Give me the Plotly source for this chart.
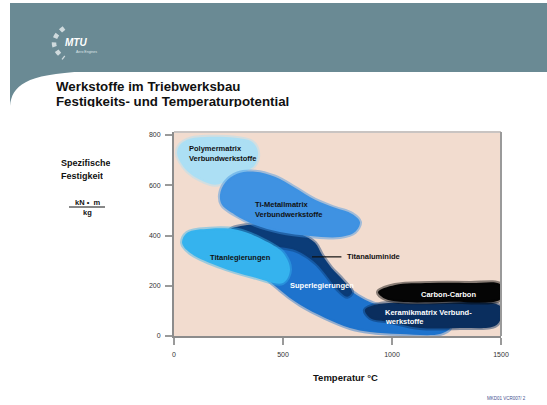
import plotly.graph_objects as go

# --- axis ticks -------------------------------------------------------------
temp_ticks = [0, 500, 1000, 1500]            # Temperatur in °C
strength_ticks = [0, 200, 400, 600, 800]     # spezifische Festigkeit in kN·m/kg

# --- material fields: outline points (temperature °C, specific strength) ----
polymer_T = [28, 73, 165, 280, 358, 385, 372, 326, 257, 188, 119, 64, 28, 14]
polymer_S = [762, 785, 793, 789, 773, 734, 682, 654, 622, 602, 622, 654, 694, 730]

ti_mmc_T = [211, 234, 289, 372, 463, 555, 647, 739, 817, 853, 830, 761, 624, 486, 372, 280, 220]
ti_mmc_S = [562, 610, 646, 654, 634, 590, 542, 510, 486, 454, 414, 394, 398, 414, 442, 482, 522]

superleg_T = [486, 601, 670, 739, 807, 876, 968, 1037, 1174, 1266, 1220, 1037, 899, 807, 693, 578, 486, 417, 404]
superleg_S = [363, 363, 311, 243, 183, 144, 112, 84, 56, 32, 8, 8, 16, 32, 72, 124, 183, 243, 303]

tial_T = [257, 349, 463, 578, 647, 679, 722, 775, 817, 795, 745, 700, 650, 560, 417, 326]
tial_S = [423, 443, 439, 407, 371, 323, 271, 223, 175, 156, 190, 240, 290, 340, 363, 391]

titan_T = [60, 165, 289, 408, 500, 532, 500, 362, 211, 73, 37]
titan_S = [411, 427, 423, 383, 331, 263, 211, 235, 275, 331, 371]

keramik_T = [876, 945, 1128, 1495, 1500, 1472, 1312, 1128, 991, 899]
keramik_S = [104, 128, 128, 120, 72, 40, 32, 32, 56, 72]

carbon_T = [936, 1014, 1174, 1358, 1495, 1500, 1495, 1266, 1037, 968]
carbon_S = [175, 203, 211, 211, 207, 175, 144, 136, 136, 148]

# --- field labels -------------------------------------------------------------
labels = [
    ("Polymermatrix", 60, 746, "#111111"),
    ("Verbundwerkstoffe", 60, 706, "#111111"),
    ("Ti-Metallmatrix", 362, 522, "#111111"),
    ("Verbundwerkstoffe", 362, 482, "#111111"),
    ("Titanlegierungen", 156, 311, "#111111"),
    ("Titanaluminide", 784, 315, "#111111"),
    ("Superlegierungen", 523, 203, "#ffffff"),
    ("Carbon-Carbon", 1124, 167, "#ffffff"),
    ("Keramikmatrix Verbund-", 959, 92, "#ffffff"),
    ("werkstoffe", 959, 56, "#ffffff"),
]

FONT = "Liberation Sans, Arial, sans-serif"

fields = [
    (polymer_T, polymer_S, (172, 223, 244)),
    (superleg_T, superleg_S, (30, 115, 205)),
    (tial_T, tial_S, (11, 60, 120)),
    (titan_T, titan_S, (53, 179, 238)),
    (ti_mmc_T, ti_mmc_S, (63, 146, 226)),
    (keramik_T, keramik_S, (10, 46, 94)),
    (carbon_T, carbon_S, (5, 5, 5)),
]

fig = go.Figure()


def rgba(c, a):
    return f"rgba({c[0]},{c[1]},{c[2]},{a})"


for T, S, col in fields:
    xs, ys = T + T[:1], S + S[:1]
    # filled field with a semi-transparent rim for a soft edge
    fig.add_trace(go.Scatter(
        x=xs, y=ys, mode="lines", fill="toself", fillcolor=rgba(col, 1),
        line=dict(color=rgba(col, 0.45), width=4, shape="spline", smoothing=1.0),
        hoverinfo="skip"))

annotations = []
for text, x, y, c in labels:
    annotations.append(dict(
        x=x, y=y, xref="x", yref="y", text=f"<b>{text}</b>", showarrow=False,
        xanchor="left", yanchor="middle", font=dict(family=FONT, size=7.5, color=c)))

# pixel -> paper helpers for slide decoration (plot area 174..501 x 132..336)
PL, PR, PT, PB = 174, 501, 132, 336


def px(xp):
    return (xp - PL) / (PR - PL)


def py(yp):
    return (PB - yp) / (PB - PT)


def page_text(text, x, y, size, color="#111111", bold=True, xanchor="left", yanchor="middle", height=None):
    a = dict(
        x=px(x), y=py(y), xref="paper", yref="paper", showarrow=False,
        text=f"<b>{text}</b>" if bold else text, xanchor=xanchor, yanchor=yanchor,
        font=dict(family=FONT, size=size, color=color))
    if height:
        a["height"] = height
    annotations.append(a)


# slide title
page_text("Werkstoffe im Triebwerksbau", 54, 86, 13.3, height=12)
page_text("Festigkeits- und Temperaturpotential", 54, 101, 13.3, height=12)

# axis titles
page_text("Spezifische", 59, 162, 9, height=11)
page_text("Festigkeit", 59, 175, 9, height=11)
page_text("kN \u2022  m", 87, 202, 7.5, xanchor="center", height=9)
page_text("kg", 87, 212, 7.5, xanchor="center", height=9)
page_text("Temperatur \u00b0C", 345, 377, 9.5, xanchor="center")

# footer & logo text
page_text("MKD01 VCR007/ 2", 506, 398, 4.5, color="#44508f", bold=False, xanchor="center")
page_text("<i>MTU</i>", 63, 42, 10, color="#ffffff")
page_text("Aero Engines", 74, 52, 3.5, color="#dfe6e8", bold=False)

BAND = "#6a8a94"
shapes = [
    # header band
    dict(type="rect", xref="paper", yref="paper", x0=px(10), x1=px(547), y0=py(72), y1=py(3),
         fillcolor=BAND, line=dict(width=0), layer="below"),
    # curved lower-left corner of the band
    dict(type="path", xref="paper", yref="paper",
         path=f"M {px(10)},{py(71)} L {px(10)},{py(106)} "
              f"C {px(12)},{py(86)} {px(25)},{py(74)} {px(85)},{py(71.5)} L {px(85)},{py(71)} Z",
         fillcolor=BAND, line=dict(width=0), layer="below"),
    # logo swirl
    dict(type="path", xref="paper", yref="paper",
         path=f"M {px(64)},{py(28)} Q {px(44)},{py(43)} {px(64)},{py(58)}",
         line=dict(color="rgba(225,232,234,0.85)", width=4.5, dash="dot")),
    # fraction bar of the unit
    dict(type="line", xref="paper", yref="paper", x0=px(69), x1=px(105), y0=py(207), y1=py(207),
         line=dict(color="#111111", width=1)),
    # top and right frame of the diagram
    dict(type="line", xref="paper", yref="paper", x0=0, x1=1, y0=1, y1=1,
         line=dict(color="#c9c4c2", width=2)),
    dict(type="line", xref="paper", yref="paper", x0=1, x1=1, y0=0, y1=1,
         line=dict(color="#9a9a9a", width=2)),
    # leader line for Titanaluminide
    dict(type="line", xref="x", yref="y", x0=633, x1=768, y0=315, y1=315,
         line=dict(color="#111111", width=1.2)),
]

fig.update_layout(
    width=547, height=405,
    margin=dict(l=PL, r=547 - PR, t=PT, b=405 - PB),
    paper_bgcolor="#ffffff", plot_bgcolor="#f2dccf",
    showlegend=False,
    font=dict(family=FONT),
    annotations=annotations,
    shapes=shapes,
    xaxis=dict(range=[0, 1500], tickvals=temp_ticks, showgrid=False, zeroline=False,
               ticks="outside", ticklen=7, tickwidth=1.5, tickcolor="#9a9a9a",
               tickfont=dict(family=FONT, size=7, color="#333333"), ticklabelstandoff=4,
               showline=True, linecolor="#8c8c8c", linewidth=2, fixedrange=True),
    yaxis=dict(range=[0, 812], tickvals=strength_ticks, showgrid=False, zeroline=False,
               ticks="outside", ticklen=7, tickwidth=1.5, tickcolor="#9a9a9a",
               tickfont=dict(family=FONT, size=7, color="#333333"), ticklabelstandoff=3,
               showline=True, linecolor="#8c8c8c", linewidth=2, fixedrange=True),
)

fig.write_html("out.html")
